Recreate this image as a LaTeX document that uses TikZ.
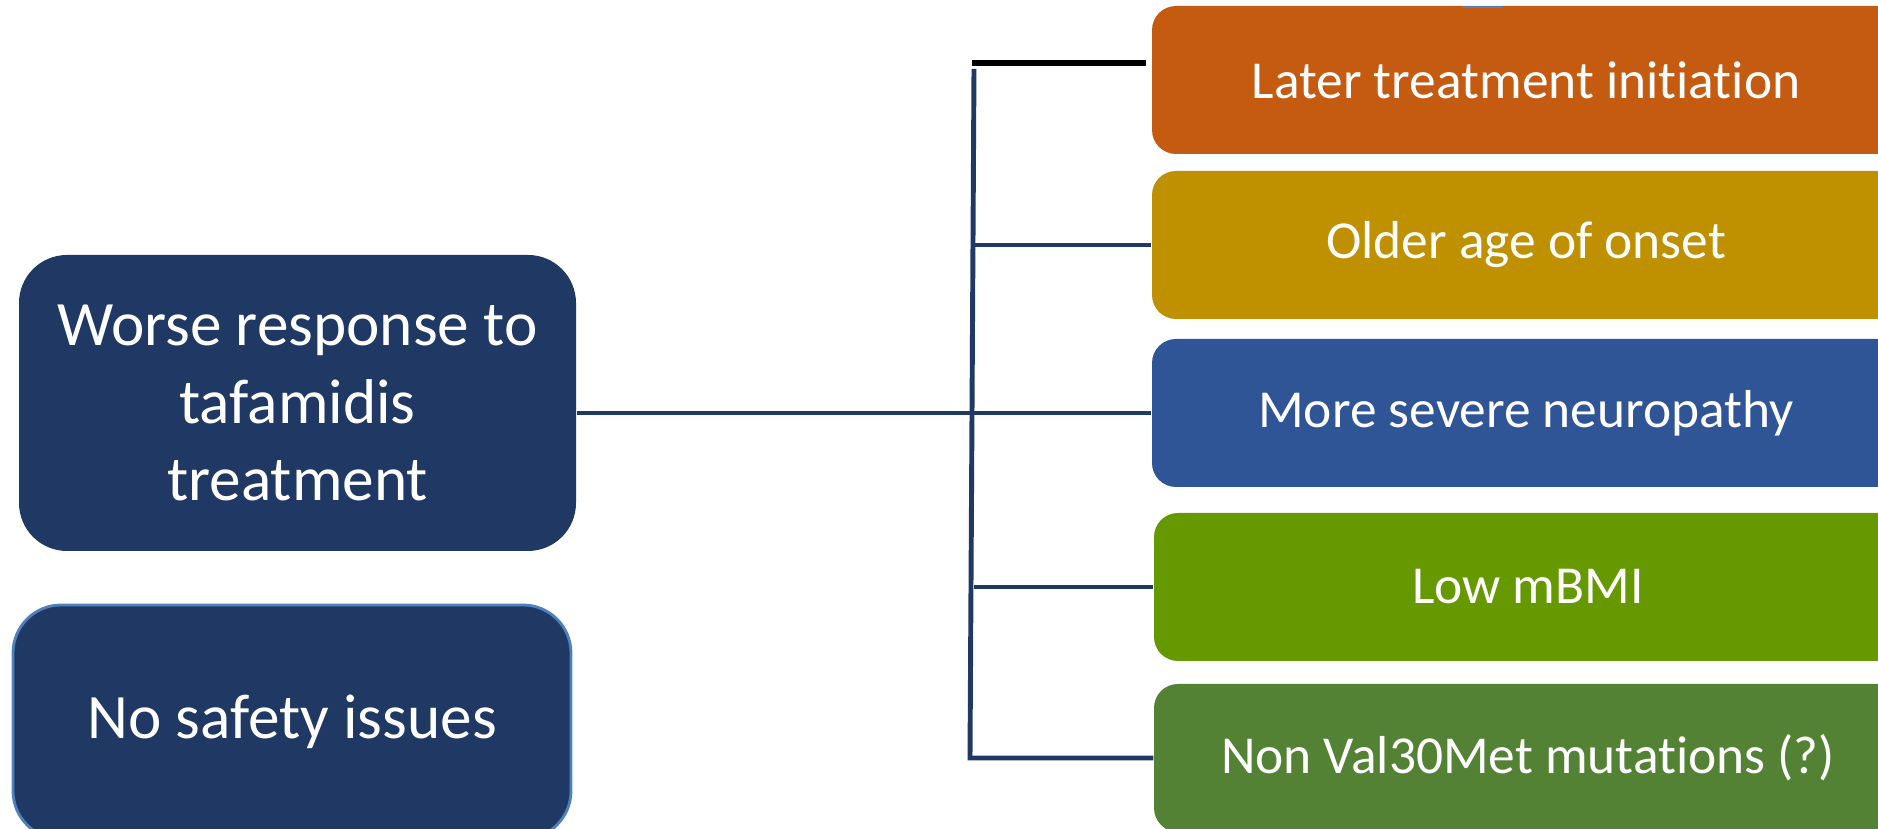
\documentclass[tikz,border=0pt]{standalone}
\usepackage{fontspec}
\setmainfont[Ligatures=NoCommon]{Carlito}
\usetikzlibrary{positioning}
\definecolor{ttNavy}{RGB}{32,56,100}
\definecolor{ttEdge}{RGB}{79,129,189}
\definecolor{ttOrange}{RGB}{197,90,17}
\definecolor{ttGold}{RGB}{191,144,0}
\definecolor{ttBlue}{RGB}{47,85,151}
\definecolor{ttLime}{RGB}{102,153,0}
\definecolor{ttGreen}{RGB}{84,130,53}
\definecolor{ttMark}{RGB}{91,127,181}
\tikzset{
  leftbox/.style={
    fill=ttNavy,
    rounded corners=0.48cm,
    align=center,
    text=white,
    font=\fontsize{18}{22}\selectfont
  },
  rightbox/.style={
    rounded corners=0.24cm,
    minimum width=7.48cm,
    minimum height=1.48cm,
    text=white,
    font=\fontsize{15.2}{18}\selectfont
  },
  link/.style={draw=ttNavy, line width=1.4pt}
}
\begin{document}
\begin{tikzpicture}
  \useasboundingbox (0,0) rectangle (18.78,8.29);
  \clip (0,0) rectangle (18.78,8.29);
  % left side
  \node[leftbox, minimum width=5.57cm, minimum height=2.96cm] (worse) at (2.975,4.26)
    {Worse response to\\tafamidis\\treatment};
  \node[leftbox, draw=ttEdge, line width=0.8pt, minimum width=5.58cm, minimum height=2.34cm] (safety) at (2.92,1.07)
    {No safety issues};
  % right side
  \node[rightbox, fill=ttOrange] (later) at (15.26,7.49) {Later treatment initiation};
  \node[rightbox, fill=ttGold] (older) at (15.26,5.84) {Older age of onset};
  \node[rightbox, fill=ttBlue] (severe) at (15.26,4.16) {More severe neuropathy};
  \node[rightbox, fill=ttLime] (lowbmi) at (15.28,2.42) {Low mBMI};
  \node[rightbox, fill=ttGreen] (nonval) at (15.28,0.71) {Non Val30Met mutations (?)};
  % connectors
  \coordinate (spinetop) at (9.74,7.60);
  \coordinate (spinebot) at (9.70,0.71);
  \coordinate (capl) at (9.72,7.66);
  \coordinate (capr) at (11.46,7.66);
  \draw[link] (worse.east |- severe.west) -- (severe.west);
  \draw[link] (spinetop) -- (spinebot) -- (nonval.west);
  \draw[link] (spinetop |- older.west) -- (older.west);
  \draw[link] (spinetop |- lowbmi.west) -- (lowbmi.west);
  \draw[line width=1.7pt] (capl) -- (capr);
  \draw[ttMark, line width=0.7pt] (14.63,8.22) -- (15.03,8.22);
\end{tikzpicture}
\end{document}
